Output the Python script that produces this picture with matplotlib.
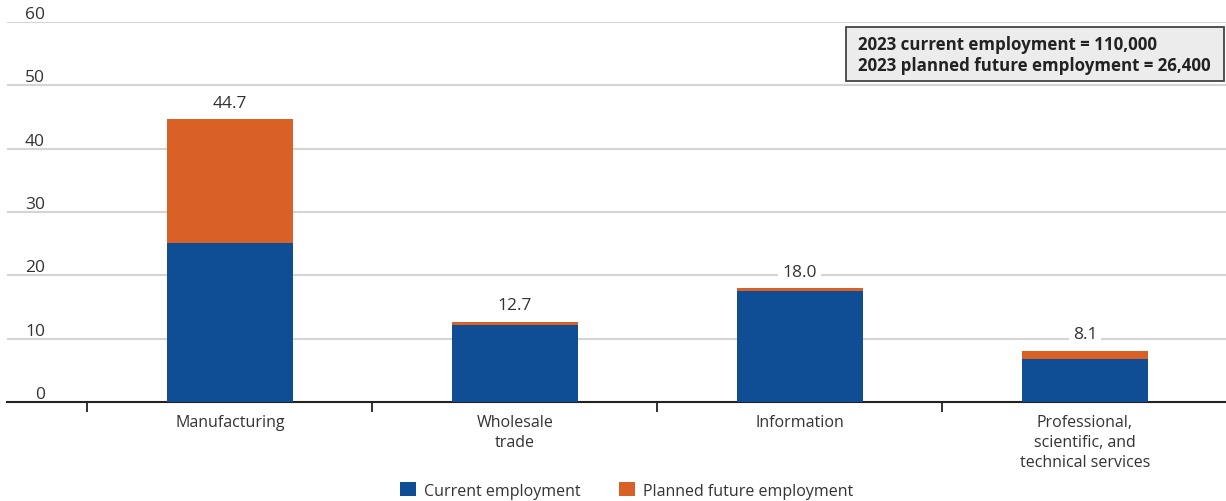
import numpy as np
import matplotlib
matplotlib.use("Agg")
import matplotlib.pyplot as plt
from matplotlib.patches import Patch, Rectangle
import matplotlib.transforms as mtransforms

plt.rcParams['font.family'] = ['Open Sans', 'DejaVu Sans']

# data (share of employment, %)
industries = ["Manufacturing", "Wholesale\ntrade", "Information",
              "Professional,\nscientific, and\ntechnical services"]
current = [25.1, 12.2, 17.6, 6.8]
planned = [19.6, 0.5, 0.4, 1.3]
totals = [44.7, 12.7, 18.0, 8.1]
yticks = [0, 10, 20, 30, 40, 50, 60]
box_lines = ["2023 current employment = 110,000",
             "2023 planned future employment = 26,400"]

blue = "#0f4d94"
orange = "#d96126"
txt = "#333333"

fig = plt.figure(figsize=(12.26, 5.02), dpi=100)
ax = fig.add_axes([7/1226, 99/502, 1219/1226, 380/502])

x = np.arange(len(industries))
ax.bar(x, current, width=0.44, color=blue, zorder=3)
ax.bar(x, planned, width=0.44, bottom=current, color=orange, zorder=3)

for xi, t in zip(x, totals):
    ax.text(xi, t + 1.3, "{:.1f}".format(t), ha="center", va="bottom",
            fontsize=12.5, color=txt, zorder=4,
            bbox=dict(facecolor="white", edgecolor="none", pad=3))

ax.set_xlim(-0.782, 3.495)
ax.set_ylim(0, 60)

# gridlines + y labels sitting above them
for v in yticks[1:]:
    ax.axhline(v, color="#d4d4d4", linewidth=1.5, zorder=1)
trans = mtransforms.blended_transform_factory(ax.transAxes, ax.transData)
for v in yticks:
    ax.text(38/1219, v + 0.02, str(v), transform=trans, ha="right", va="bottom",
            fontsize=12.5, color=txt, clip_on=False)

ax.set_yticks([])
for s in ["top", "right", "left"]:
    ax.spines[s].set_visible(False)
ax.spines["bottom"].set_color("#222222")
ax.spines["bottom"].set_linewidth(1.5)

# category boundaries as ticks, names centred under the bars
ax.set_xticks(x - 0.5)
ax.set_xticklabels([])
ax.tick_params(axis="x", which="major", direction="out", length=7, width=1.3, color="#222222")
ax.set_xticks(x, minor=True)
ax.set_xticklabels(industries, minor=True, fontsize=11.5, color=txt, linespacing=1.3)
ax.tick_params(axis="x", which="minor", length=0, pad=9)

# info box
fig.patches.append(Rectangle((846/1226, 1 - 82/502), 378/1226, 54/502,
                             transform=fig.transFigure, facecolor="#ececec",
                             edgecolor="#444444", linewidth=1.3, zorder=5))
for i, line in enumerate(box_lines):
    fig.text(858/1226, 1 - (45 + 21*i)/502, line, ha="left", va="center",
             fontsize=12.2, fontweight="bold", color="#222222", zorder=6)

handles = [Patch(facecolor=blue, label="Current employment"),
           Patch(facecolor=orange, label="Planned future employment")]
leg = fig.legend(handles=handles, loc="lower center", bbox_to_anchor=(0.511, -0.024),
                 ncol=2, frameon=False, fontsize=11.5, handlelength=1.0,
                 handleheight=1.0, handletextpad=0.5, columnspacing=2.4)
for t in leg.get_texts():
    t.set_color(txt)

fig.savefig("out.png", dpi=100)
